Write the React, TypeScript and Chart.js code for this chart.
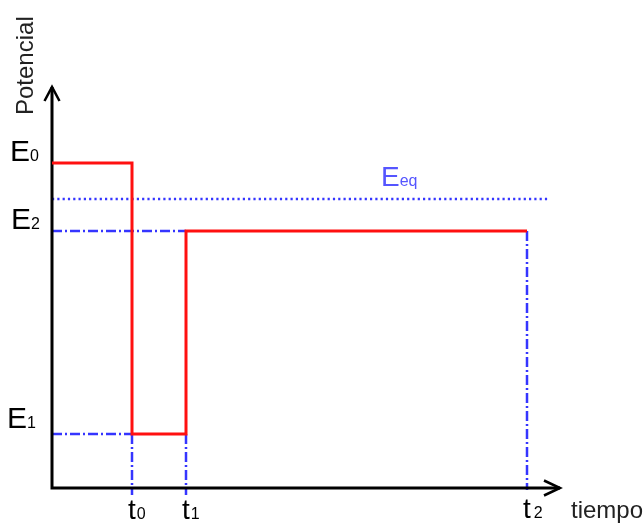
import React, { useEffect, useRef } from "react";
import { Chart, registerables } from "chart.js";

Chart.register(...registerables);

// Potential levels (arbitrary units)
const LEVEL_E0 = 32.5;
const LEVEL_EEQ = 28.9;
const LEVEL_E2 = 25.7;
const LEVEL_E1 = 5.4;

// Time marks (arbitrary units)
const TIME_T0 = 8.0;
const TIME_T1 = 13.4;
const TIME_T2 = 47.5;

// Pulse (red) series
const PULSE_TIMES = [0, TIME_T0, TIME_T0, TIME_T1, TIME_T1, TIME_T2];
const PULSE_POTENTIALS = [LEVEL_E0, LEVEL_E0, LEVEL_E1, LEVEL_E1, LEVEL_E2, LEVEL_E2];

// Axis extents
const X_MIN = -5.2;
const X_MAX = 59.1;
const Y_MIN = -3.9;
const Y_MAX = 48.8;
const X_AXIS_END = 50.8;
const Y_AXIS_END = 40.1;
const EEQ_LINE_END = 49.6;
const GUIDE_BOTTOM = -0.7;
const GUIDE_BOTTOM_T2 = -0.2;

// Labels
const LEVEL_LABELS = ["E", "E", "E"];
const LEVEL_SUBS = ["0", "2", "1"];
const TIME_LABELS = ["t", "t", "t"];
const TIME_SUBS = ["0", "1", "2"];
const Y_TITLE = "Potencial";
const X_TITLE = "tiempo";
const EEQ_MAIN = "E";
const EEQ_SUB = "eq";

const RED = "#ff1010";
const BLUE = "#3535ff";
const FONT = "'Liberation Sans', Arial, sans-serif";

const pts = (xs: number[], ys: number[]) => xs.map((x, i) => ({ x, y: ys[i] }));

function drawSub(
  ctx: CanvasRenderingContext2D,
  main: string,
  sub: string,
  x: number,
  y: number,
  color: string,
  bigSize: number,
  smallSize: number,
  gap: number
) {
  ctx.fillStyle = color;
  ctx.textAlign = "left";
  ctx.textBaseline = "alphabetic";
  ctx.font = `${bigSize}px ${FONT}`;
  ctx.fillText(main, x, y);
  const w = ctx.measureText(main).width;
  ctx.font = `${smallSize}px ${FONT}`;
  ctx.fillText(sub, x + w + gap, y);
}

const labelPlugin = {
  id: "labelPlugin",
  afterDraw(chart: any) {
    const { ctx } = chart;
    const xs = chart.scales.x;
    const ys = chart.scales.y;
    const px = (v: number) => xs.getPixelForValue(v);
    const py = (v: number) => ys.getPixelForValue(v);
    ctx.save();
    const ox = px(0);
    // Level labels
    drawSub(ctx, LEVEL_LABELS[0], LEVEL_SUBS[0], ox - 42, py(LEVEL_E0) - 2, "#000", 30, 16, 0);
    drawSub(ctx, LEVEL_LABELS[1], LEVEL_SUBS[1], ox - 41, py(LEVEL_E2) - 2, "#000", 30, 16, 0);
    drawSub(ctx, LEVEL_LABELS[2], LEVEL_SUBS[2], ox - 45, py(LEVEL_E1) - 6, "#000", 30, 16, 0);
    // Time labels
    const base = py(0) + 31;
    drawSub(ctx, TIME_LABELS[0], TIME_SUBS[0], px(TIME_T0) - 4, base, "#000", 28, 16, 1);
    drawSub(ctx, TIME_LABELS[1], TIME_SUBS[1], px(TIME_T1) - 4, base, "#000", 28, 16, 1);
    drawSub(ctx, TIME_LABELS[2], TIME_SUBS[2], px(TIME_T2) - 4, base - 1, "#000", 28, 16, 3);
    // Eeq label
    drawSub(ctx, EEQ_MAIN, EEQ_SUB, px(32.9), py(LEVEL_EEQ) - 13, "#5555ff", 28, 16, 0);
    // Axis titles
    ctx.fillStyle = "#222";
    ctx.font = `24px ${FONT}`;
    ctx.textAlign = "left";
    ctx.textBaseline = "alphabetic";
    ctx.fillText(X_TITLE, px(X_AXIS_END) + 11, py(0) + 30);
    ctx.translate(ox - 19, py(Y_AXIS_END) + 28);
    ctx.rotate(-Math.PI / 2);
    ctx.fillText(Y_TITLE, 0, 0);
    ctx.restore();
  },
};

export default function App() {
  const ref = useRef<HTMLCanvasElement | null>(null);
  useEffect(() => {
    if (!ref.current) return;
    const line = (data: any[], color: string, width: number, dash: number[] = []) => ({
      data,
      showLine: true,
      borderColor: color,
      backgroundColor: color,
      borderWidth: width,
      borderDash: dash,
      borderCapStyle: "butt",
      borderJoinStyle: "miter",
      pointRadius: 0,
      pointHoverRadius: 0,
      tension: 0,
      fill: false,
    });
    const dashDot = [10, 3, 2, 3];
    const dotted = [2.2, 3.1];
    const chart = new Chart(ref.current, {
      type: "scatter",
      data: {
        datasets: [
          line(pts(PULSE_TIMES, PULSE_POTENTIALS), RED, 3),
          line(pts([0, 0, X_AXIS_END], [Y_AXIS_END, 0, 0]), "#000", 3),
          line(pts([-0.75, 0, 0.75], [Y_AXIS_END - 1.4, Y_AXIS_END, Y_AXIS_END - 1.4]), "#000", 2.5),
          line(pts([X_AXIS_END - 1.6, X_AXIS_END, X_AXIS_END - 1.6], [0.75, 0, -0.75]), "#000", 2.5),
          line(pts([0, EEQ_LINE_END], [LEVEL_EEQ, LEVEL_EEQ]), BLUE, 2.5, dotted),
          line(pts([0, TIME_T1], [LEVEL_E2, LEVEL_E2]), BLUE, 2.5, dashDot),
          line(pts([0, TIME_T0], [LEVEL_E1, LEVEL_E1]), BLUE, 2.5, dashDot),
          line(pts([TIME_T0, TIME_T0], [LEVEL_E1, GUIDE_BOTTOM]), BLUE, 2.5, dashDot),
          line(pts([TIME_T1, TIME_T1], [LEVEL_E1, GUIDE_BOTTOM]), BLUE, 2.5, dashDot),
          line(pts([TIME_T2, TIME_T2], [LEVEL_E2, GUIDE_BOTTOM_T2]), BLUE, 2.5, dashDot),
        ] as any,
      },
      options: {
        animation: false,
        responsive: false,
        devicePixelRatio: 1,
        layout: { padding: 0 },
        plugins: { legend: { display: false }, tooltip: { enabled: false } },
        events: [],
        scales: {
          x: { type: "linear", min: X_MIN, max: X_MAX, display: false },
          y: { type: "linear", min: Y_MIN, max: Y_MAX, display: false },
        },
      } as any,
      plugins: [labelPlugin],
    });
    return () => chart.destroy();
  }, []);
  return (
    <div style={{ position: "absolute", left: 0, top: 0, width: 643, height: 527, background: "#fff" }}>
      <canvas ref={ref} width={643} height={527} style={{ display: "block" }} />
    </div>
  );
}
